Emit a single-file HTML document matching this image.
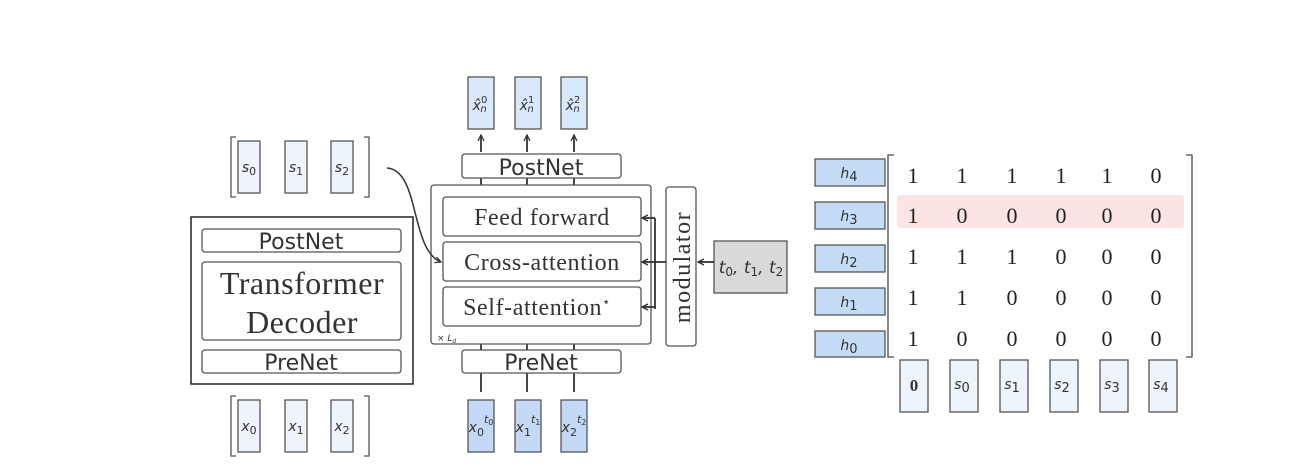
<!DOCTYPE html>
<html><head><meta charset="utf-8"><style>body{margin:0;background:#fff}svg{display:block}</style></head><body>
<svg width="1304" height="474" viewBox="0 0 1304 474" xmlns="http://www.w3.org/2000/svg">
<defs><marker id="a" markerWidth="8" markerHeight="8" refX="7" refY="4" orient="auto" markerUnits="userSpaceOnUse"><path d="M1,1 L7,4 L1,7" fill="none" stroke="#333" stroke-width="1.3"/></marker></defs>
<g font-family="DejaVu Sans, sans-serif" fill="#333">
<g stroke="#555" stroke-width="1.3" fill="#eef4fc">
<rect x="238" y="141" width="22" height="52"/><rect x="285" y="141" width="22" height="52"/><rect x="331" y="141" width="22" height="52"/>
<rect x="238" y="400" width="22" height="52"/><rect x="285" y="400" width="22" height="52"/><rect x="331" y="400" width="22" height="52"/>
</g>
<g stroke="#555" stroke-width="1.3" fill="none">
<path d="M236,137 H231 V197 H236"/><path d="M364,137 H369 V197 H364"/>
<path d="M236,396 H231 V456 H236"/><path d="M364,396 H369 V456 H364"/>
</g>
<g font-size="14" font-style="italic" text-anchor="middle">
<text x="249" y="172">s<tspan font-size="11" dy="3" font-style="normal">0</tspan></text>
<text x="296" y="172">s<tspan font-size="11" dy="3" font-style="normal">1</tspan></text>
<text x="342" y="172">s<tspan font-size="11" dy="3" font-style="normal">2</tspan></text>
<text x="249" y="431">x<tspan font-size="11" dy="3" font-style="normal">0</tspan></text>
<text x="296" y="431">x<tspan font-size="11" dy="3" font-style="normal">1</tspan></text>
<text x="342" y="431">x<tspan font-size="11" dy="3" font-style="normal">2</tspan></text>
</g>
<rect x="191" y="217" width="222" height="167" fill="none" stroke="#222" stroke-width="1.5"/>
<g stroke="#555" stroke-width="1.3" fill="#fff">
<rect x="202" y="229" width="199" height="23" rx="3"/><rect x="202" y="262" width="199" height="78" rx="3"/><rect x="202" y="350" width="199" height="23" rx="3"/>
</g>
<text x="301" y="249" font-size="22" text-anchor="middle">PostNet</text>
<text x="301" y="370" font-size="22" text-anchor="middle">PreNet</text>
<text x="302" y="294" font-size="32" letter-spacing="0.5" text-anchor="middle" font-family="Liberation Serif, serif">Transformer</text>
<text x="302" y="333" font-size="32" letter-spacing="0.5" text-anchor="middle" font-family="Liberation Serif, serif">Decoder</text>
<g stroke="#333" stroke-width="1.8" fill="none">
<path d="M481,152 V135" marker-end="url(#a)"/><path d="M527,152 V135" marker-end="url(#a)"/><path d="M574,152 V135" marker-end="url(#a)"/>
<path d="M481,178 V185 M527,178 V185 M574,178 V185"/>
<path d="M481,344 V350 M527,344 V350 M574,344 V350"/>
<path d="M481,373 V392 M527,373 V392 M574,373 V392"/>
</g>
<g stroke="#555" stroke-width="1.3" fill="#dae8fb">
<rect x="468" y="77" width="26" height="52"/><rect x="515" y="77" width="26" height="52"/><rect x="561" y="77" width="26" height="52"/>
</g>
<g fill="#c3d9f5" stroke="#555" stroke-width="1.3">
<rect x="468" y="400" width="26" height="52"/><rect x="515" y="400" width="26" height="52"/><rect x="561" y="400" width="26" height="52"/>
</g>
<g font-size="14" font-style="italic" text-anchor="middle">
<text x="480" y="110">x̂<tspan font-size="10" dy="-7" font-style="normal">0</tspan><tspan font-size="10" dx="-7" dy="9">n</tspan></text>
<text x="527" y="110">x̂<tspan font-size="10" dy="-7" font-style="normal">1</tspan><tspan font-size="10" dx="-7" dy="9">n</tspan></text>
<text x="573" y="110">x̂<tspan font-size="10" dy="-7" font-style="normal">2</tspan><tspan font-size="10" dx="-7" dy="9">n</tspan></text>
<text x="481" y="432">x<tspan font-size="11" dy="4" font-style="normal">0</tspan><tspan font-size="11" dy="-13">t</tspan><tspan font-size="8" font-style="normal" dy="2">0</tspan></text>
<text x="528" y="432">x<tspan font-size="11" dy="4" font-style="normal">1</tspan><tspan font-size="11" dy="-13">t</tspan><tspan font-size="8" font-style="normal" dy="2">1</tspan></text>
<text x="574" y="432">x<tspan font-size="11" dy="4" font-style="normal">2</tspan><tspan font-size="11" dy="-13">t</tspan><tspan font-size="8" font-style="normal" dy="2">2</tspan></text>
</g>
<g stroke="#555" stroke-width="1.3" fill="#fff">
<rect x="462" y="154" width="159" height="24" rx="3"/>
<rect x="431" y="185" width="220" height="159" rx="3"/>
<rect x="443" y="197" width="198" height="39" rx="3"/>
<rect x="443" y="242" width="198" height="39" rx="3"/>
<rect x="443" y="287" width="198" height="39" rx="3"/>
<rect x="462" y="350" width="159" height="23" rx="3"/>
<rect x="666" y="187" width="30" height="159" rx="3"/>
</g>
<path d="M387,168 C420,170 410,250 441,262" fill="none" stroke="#333" stroke-width="1.5" marker-end="url(#a)"/>
<rect x="714" y="241" width="73" height="52" fill="#d9d9d9" stroke="#555" stroke-width="1.3"/>
<text x="541" y="175" font-size="22" text-anchor="middle">PostNet</text>
<text x="541" y="370" font-size="22" text-anchor="middle">PreNet</text>
<g font-family="Liberation Serif, serif" font-size="24" letter-spacing="0.6" text-anchor="middle">
<text x="542" y="225">Feed forward</text>
<text x="542" y="270">Cross-attention</text>
<text x="537" y="315">Self-attention<tspan font-size="13" dy="-9">⋆</tspan></text>
<text transform="translate(690,267) rotate(-90)" letter-spacing="1.5">modulator</text>
</g>
<text x="437" y="341" font-size="9" font-style="italic">× L<tspan font-size="6" dy="2">d</tspan></text>
<text x="751" y="273" font-size="17" font-style="italic" text-anchor="middle">t<tspan font-size="12" dy="3" font-style="normal">0</tspan><tspan dy="-3">, t</tspan><tspan font-size="12" dy="3" font-style="normal">1</tspan><tspan dy="-3">, t</tspan><tspan font-size="12" dy="3" font-style="normal">2</tspan></text>
<g stroke="#333" stroke-width="1.8" fill="none">
<path d="M655,218 V309 M666,262 H655"/>
<path d="M655,218 H642" marker-end="url(#a)"/><path d="M655,262 H642" marker-end="url(#a)"/><path d="M655,307 H642" marker-end="url(#a)"/>
<path d="M714,262 H698" marker-end="url(#a)"/>
</g>
<rect x="897" y="195" width="287" height="33" rx="3" fill="#fde4e4"/>
<g stroke="#555" stroke-width="1.3" fill="#c5dcf7">
<rect x="815" y="159" width="70" height="27"/><rect x="815" y="202" width="70" height="27"/><rect x="815" y="245" width="70" height="27"/><rect x="815" y="288" width="70" height="27"/><rect x="815" y="331" width="70" height="26"/>
</g>
<g font-size="14" font-style="italic" text-anchor="middle">
<text x="849" y="178">h<tspan font-size="13" font-style="normal" dy="3">4</tspan></text>
<text x="849" y="221">h<tspan font-size="13" font-style="normal" dy="3">3</tspan></text>
<text x="849" y="264">h<tspan font-size="13" font-style="normal" dy="3">2</tspan></text>
<text x="849" y="307">h<tspan font-size="13" font-style="normal" dy="3">1</tspan></text>
<text x="849" y="350">h<tspan font-size="13" font-style="normal" dy="3">0</tspan></text>
</g>
<g stroke="#444" stroke-width="1.3" fill="none"><path d="M894,155 H888 V357 H894"/><path d="M1186,155 H1192 V357 H1186"/></g>
<g font-family="Liberation Serif, serif" font-size="22" text-anchor="middle" fill="#222">
<text y="183"><tspan x="913">1</tspan><tspan x="962">1</tspan><tspan x="1012">1</tspan><tspan x="1061">1</tspan><tspan x="1107">1</tspan><tspan x="1156">0</tspan></text>
<text y="223"><tspan x="913">1</tspan><tspan x="962">0</tspan><tspan x="1012">0</tspan><tspan x="1061">0</tspan><tspan x="1107">0</tspan><tspan x="1156">0</tspan></text>
<text y="264"><tspan x="913">1</tspan><tspan x="962">1</tspan><tspan x="1012">1</tspan><tspan x="1061">0</tspan><tspan x="1107">0</tspan><tspan x="1156">0</tspan></text>
<text y="305"><tspan x="913">1</tspan><tspan x="962">1</tspan><tspan x="1012">0</tspan><tspan x="1061">0</tspan><tspan x="1107">0</tspan><tspan x="1156">0</tspan></text>
<text y="346"><tspan x="913">1</tspan><tspan x="962">0</tspan><tspan x="1012">0</tspan><tspan x="1061">0</tspan><tspan x="1107">0</tspan><tspan x="1156">0</tspan></text>
</g>
<g stroke="#555" stroke-width="1.3" fill="#eef4fc">
<rect x="900" y="360" width="28" height="52"/><rect x="950" y="360" width="28" height="52"/><rect x="1000" y="360" width="28" height="52"/><rect x="1050" y="360" width="28" height="52"/><rect x="1100" y="360" width="28" height="52"/><rect x="1149" y="360" width="28" height="52"/>
</g>
<text x="914" y="391" font-size="17" font-weight="bold" font-family="Liberation Serif, serif" text-anchor="middle">0</text>
<g font-size="14" font-style="italic" text-anchor="middle">
<text x="962" y="389">s<tspan font-size="13" font-style="normal" dy="3">0</tspan></text>
<text x="1012" y="389">s<tspan font-size="13" font-style="normal" dy="3">1</tspan></text>
<text x="1062" y="389">s<tspan font-size="13" font-style="normal" dy="3">2</tspan></text>
<text x="1112" y="389">s<tspan font-size="13" font-style="normal" dy="3">3</tspan></text>
<text x="1161" y="389">s<tspan font-size="13" font-style="normal" dy="3">4</tspan></text>
</g>
</g>
</svg>
</body></html>
